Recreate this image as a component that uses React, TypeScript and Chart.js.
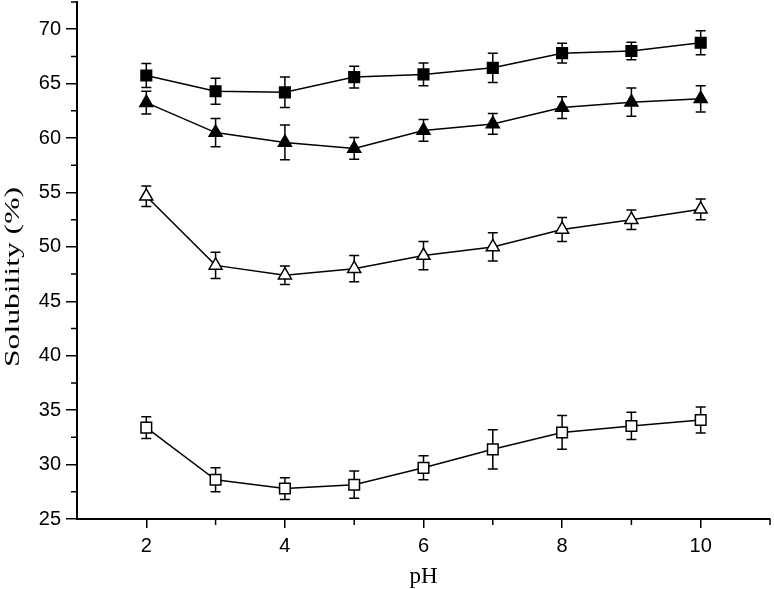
import React, { useEffect, useRef } from "react";
import { Chart, registerables } from "chart.js";

Chart.register(...registerables);

const phValues = [2, 3, 4, 5, 6, 7, 8, 9, 10];
const xTicks = [2, 4, 6, 8, 10];
const xMinorTicks = [3, 5, 7, 9, 11];
const yTicks = [25, 30, 35, 40, 45, 50, 55, 60, 65, 70];
const yMinorTicks = [27.5, 32.5, 37.5, 42.5, 47.5, 52.5, 57.5, 62.5, 67.5, 72.5];

const filledSquare = [65.75, 64.3, 64.2, 65.6, 65.85, 66.45, 67.8, 68.0, 68.75];
const filledSquareErr = [1.1, 1.2, 1.4, 1.0, 1.05, 1.35, 0.9, 0.8, 1.1];
const filledTriangle = [63.25, 60.5, 59.6, 59.05, 60.7, 61.3, 62.8, 63.3, 63.6];
const filledTriangleErr = [1.05, 1.3, 1.6, 1.0, 1.0, 0.95, 1.0, 1.3, 1.2];
const openTriangle = [54.65, 48.3, 47.4, 48.0, 49.2, 50.0, 51.6, 52.5, 53.45];
const openTriangleErr = [0.95, 1.2, 0.85, 1.2, 1.3, 1.3, 1.1, 0.9, 0.95];
const openSquare = [33.4, 28.6, 27.8, 28.15, 29.7, 31.4, 32.95, 33.55, 34.1];
const openSquareErr = [1.0, 1.1, 1.0, 1.25, 1.1, 1.8, 1.55, 1.25, 1.2];

const xTitle = "pH";
const yTitle = "Solubility (%)";

const errorBarPlugin = {
  id: "errorBars",
  beforeDatasetsDraw(chart: any) {
    const ctx = chart.ctx;
    const yScale = chart.scales.y;
    ctx.save();
    ctx.strokeStyle = "#000";
    ctx.lineWidth = 1.5;
    chart.data.datasets.forEach((ds: any, i: number) => {
      const meta = chart.getDatasetMeta(i);
      meta.data.forEach((pt: any, j: number) => {
        const v = ds.data[j].y;
        const e = ds.errors[j];
        const x = pt.x;
        const yTop = yScale.getPixelForValue(v + e);
        const yBot = yScale.getPixelForValue(v - e);
        ctx.beginPath();
        ctx.moveTo(x, yTop);
        ctx.lineTo(x, yBot);
        ctx.moveTo(x - 5, yTop);
        ctx.lineTo(x + 5, yTop);
        ctx.moveTo(x - 5, yBot);
        ctx.lineTo(x + 5, yBot);
        ctx.stroke();
      });
    });
    ctx.restore();
  },
};

const decorPlugin = {
  id: "decor",
  afterDraw(chart: any) {
    const ctx = chart.ctx;
    const xs = chart.scales.x;
    const ys = chart.scales.y;
    const area = chart.chartArea;
    ctx.save();
    ctx.strokeStyle = "#000";
    ctx.lineWidth = 1.5;
    ctx.beginPath();
    xMinorTicks.forEach((v) => {
      const px = xs.getPixelForValue(v);
      ctx.moveTo(px, area.bottom);
      ctx.lineTo(px, area.bottom + 6);
    });
    yMinorTicks.forEach((v) => {
      const py = ys.getPixelForValue(v);
      ctx.moveTo(area.left, py);
      ctx.lineTo(area.left - 6, py);
    });
    ctx.stroke();

    ctx.fillStyle = "#000";
    ctx.font = '23px "Liberation Serif", "Times New Roman", serif';
    ctx.textAlign = "center";
    ctx.textBaseline = "alphabetic";
    ctx.fillText(xTitle, (area.left + area.right) / 2, 583);

    ctx.font = '22px "Liberation Serif", "Times New Roman", serif';
    const w = ctx.measureText(yTitle).width;
    const sx = 180 / w;
    ctx.translate(19, 277);
    ctx.rotate(-Math.PI / 2);
    ctx.scale(sx, 1);
    ctx.fillText(yTitle, 0, 0);
    ctx.restore();
  },
};

function makeSeries(vals: number[]) {
  return vals.map((v, i) => ({ x: phValues[i], y: v }));
}

function zeroPadding(scale: any) {
  scale.paddingLeft = 0;
  scale.paddingRight = 0;
  scale.paddingTop = 0;
  scale.paddingBottom = 0;
}

export default function App() {
  const canvasRef = useRef<HTMLCanvasElement | null>(null);

  useEffect(() => {
    if (!canvasRef.current) return;
    const common = {
      borderColor: "#000",
      borderWidth: 1.5,
      pointBorderColor: "#000",
      pointBorderWidth: 1.5,
      fill: false,
      tension: 0,
    };
    const chart = new Chart(canvasRef.current, {
      type: "line",
      data: {
        datasets: [
          {
            ...common,
            label: "filled square",
            data: makeSeries(filledSquare),
            errors: filledSquareErr,
            pointStyle: "rect",
            pointRadius: 7.5,
            pointBackgroundColor: "#000",
          },
          {
            ...common,
            label: "filled triangle",
            data: makeSeries(filledTriangle),
            errors: filledTriangleErr,
            pointStyle: "triangle",
            pointRadius: 7.5,
            pointBackgroundColor: "#000",
          },
          {
            ...common,
            label: "open triangle",
            data: makeSeries(openTriangle),
            errors: openTriangleErr,
            pointStyle: "triangle",
            pointRadius: 7.5,
            pointBackgroundColor: "#fff",
          },
          {
            ...common,
            label: "open square",
            data: makeSeries(openSquare),
            errors: openSquareErr,
            pointStyle: "rect",
            pointRadius: 7.5,
            pointBackgroundColor: "#fff",
          },
        ] as any,
      },
      options: {
        responsive: false,
        animation: false,
        layout: { autoPadding: false, padding: { top: 2, right: 4, left: 0, bottom: 0 } },
        plugins: {
          legend: { display: false },
          tooltip: { enabled: false },
        },
        scales: {
          x: {
            type: "linear",
            min: 1,
            max: 11,
            afterBuildTicks: (scale: any) => {
              scale.ticks = xTicks.map((v) => ({ value: v }));
            },
            afterFit: (scale: any) => {
              scale.height = 70;
              zeroPadding(scale);
            },
            grid: {
              drawOnChartArea: false,
              drawTicks: true,
              tickLength: 9,
              color: "#000",
              lineWidth: 1.5,
            },
            border: { display: true, color: "#000", width: 2 },
            ticks: {
              color: "#000",
              padding: 6,
              maxRotation: 0,
              font: { family: '"Liberation Sans", Arial, sans-serif', size: 20 },
            },
          },
          y: {
            type: "linear",
            min: 25,
            max: 72.5,
            afterBuildTicks: (scale: any) => {
              scale.ticks = yTicks.map((v) => ({ value: v }));
            },
            afterFit: (scale: any) => {
              scale.width = 77;
              zeroPadding(scale);
            },
            grid: {
              drawOnChartArea: false,
              drawTicks: true,
              tickLength: 11,
              color: "#000",
              lineWidth: 1.5,
            },
            border: { display: true, color: "#000", width: 2 },
            ticks: {
              color: "#000",
              padding: 5,
              font: { family: '"Liberation Sans", Arial, sans-serif', size: 20 },
            },
          },
        },
      },
      plugins: [errorBarPlugin, decorPlugin],
    } as any);
    return () => chart.destroy();
  }, []);

  return (
    <div style={{ position: "fixed", left: 0, top: 0, width: 774, height: 589, background: "#fff" }}>
      <canvas ref={canvasRef} width={774} height={589} style={{ display: "block" }} />
    </div>
  );
}
